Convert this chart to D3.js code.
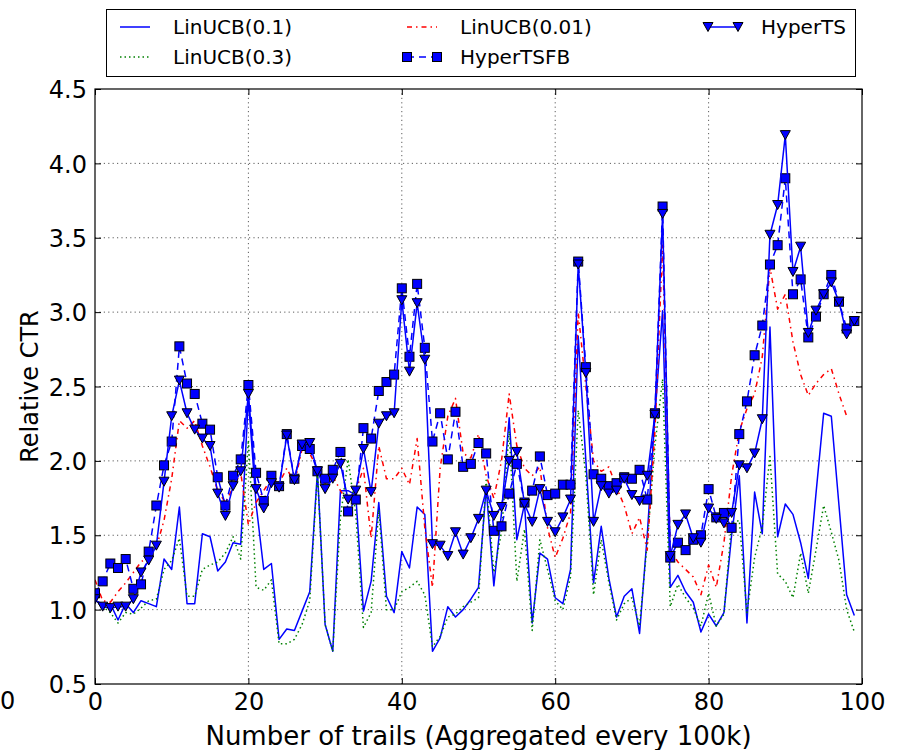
<!DOCTYPE html>
<html>
<head>
<meta charset="utf-8">
<script src="https://cdn.jsdelivr.net/npm/d3@7"></script>
<style>
  body { margin: 0; background: #fff; }
  svg { display: block; }
  text { font-family: "DejaVu Sans", "Bitstream Vera Sans", sans-serif; fill: #000; }
</style>
</head>
<body>
<svg id="chart" width="905" height="750"></svg>
<script>
// Trial index (aggregated every 100k)
const trials = d3.range(100);

const linUCB01 = [1.06,1.04,1.04,0.93,1.04,0.98,1.06,1.04,1.02,1.34,
  1.27,1.69,1.04,1.04,1.51,1.49,1.26,1.32,1.45,1.44,
  2.42,1.71,1.27,1.31,0.80,0.87,0.86,0.99,1.12,1.93,
  0.90,0.72,1.80,1.80,1.77,0.99,1.19,1.72,1.09,0.98,
  1.39,1.28,1.69,1.64,0.72,0.81,1.02,0.95,1.00,1.07,
  1.15,1.82,1.16,1.65,2.29,1.47,1.71,0.91,1.38,1.34,
  1.08,1.04,1.27,2.84,2.00,1.18,1.56,1.21,0.95,1.09,
  1.14,0.84,1.50,2.30,3.01,1.15,1.23,1.12,1.05,0.85,
  0.97,0.89,0.98,1.50,1.90,0.91,1.79,1.51,2.90,1.49,
  1.71,1.64,1.45,1.21,1.78,2.32,2.30,1.70,1.10,0.96];

const linUCB03 = [1.06,1.02,0.98,0.91,0.98,0.97,1.01,1.06,1.07,1.27,
  1.33,1.48,1.09,1.09,1.27,1.30,1.32,1.38,1.49,1.34,
  2.14,1.15,1.13,1.20,0.77,0.77,0.80,0.90,1.06,1.92,
  0.90,0.72,1.62,2.01,1.64,0.88,0.98,1.67,1.00,1.00,
  1.12,1.15,1.19,1.10,0.75,0.82,0.95,0.97,1.02,1.05,
  1.08,1.87,1.25,1.52,2.20,1.19,1.54,0.86,1.47,1.27,
  1.06,1.00,1.22,2.34,1.90,1.10,1.47,1.18,0.93,1.04,
  1.08,0.89,1.45,2.10,2.55,1.02,1.17,1.08,1.01,0.89,
  1.11,0.89,0.97,1.58,1.60,0.98,1.35,1.56,2.03,1.24,
  1.19,1.08,1.38,1.11,1.40,1.70,1.52,1.33,1.00,0.85];

const linUCB001 = [1.20,1.06,1.05,1.12,1.18,1.25,1.32,1.36,1.42,1.60,
  1.88,2.27,2.22,2.27,2.10,1.96,1.80,1.72,1.82,1.92,
  1.57,1.72,1.80,1.88,1.85,1.95,1.85,2.08,2.05,1.95,
  1.85,1.90,1.80,1.72,1.80,1.95,1.48,2.10,1.88,1.88,
  1.95,1.84,2.15,1.55,1.15,1.95,2.30,2.42,2.05,2.02,
  2.18,1.90,1.75,2.00,2.45,2.10,1.95,1.90,1.96,1.55,
  1.35,1.48,1.65,3.00,2.50,2.00,1.93,1.96,1.82,1.70,
  1.51,1.62,1.40,2.20,3.45,1.40,1.32,1.27,1.22,1.10,
  1.30,1.15,1.45,1.90,2.20,2.35,2.45,2.70,3.30,3.02,
  3.12,2.80,2.58,2.44,2.52,2.58,2.62,2.45,2.30,null];

const hyperTSFB = [1.11,1.19,1.31,1.28,1.34,1.14,1.17,1.39,1.70,1.97,
  2.13,2.77,2.52,2.45,2.25,2.21,1.89,1.70,1.90,2.01,
  2.51,1.92,1.73,1.90,1.83,2.18,1.88,2.10,2.08,1.93,
  1.88,1.94,2.06,1.66,1.74,2.22,2.15,2.47,2.53,2.58,
  3.16,2.70,3.19,2.76,2.13,2.32,2.01,2.33,1.96,1.98,
  2.12,2.05,1.53,1.56,1.78,1.98,1.72,1.80,2.03,1.77,
  1.78,1.84,1.84,3.34,2.63,1.91,1.88,1.83,1.85,1.89,
  1.88,1.94,1.74,2.32,3.71,1.35,1.45,1.40,1.47,1.50,
  1.81,1.62,1.65,1.55,2.18,2.40,2.71,2.91,3.32,3.45,
  3.90,3.12,3.22,2.83,2.97,3.12,3.25,3.07,2.89,2.94];

const hyperTS = [1.07,1.02,1.01,1.02,1.02,1.07,1.25,1.33,1.43,1.86,
  2.30,2.54,2.32,2.21,2.15,2.10,1.78,1.63,1.83,1.93,
  2.45,1.81,1.68,1.85,1.82,2.17,1.87,2.11,2.12,1.93,
  1.81,1.88,1.98,1.74,1.80,2.08,1.79,2.25,2.30,2.32,
  3.08,2.60,3.06,2.68,1.44,1.43,1.36,1.52,1.37,1.48,
  1.61,1.80,1.63,1.69,2.00,2.06,1.71,1.59,1.81,1.59,
  1.52,1.62,1.74,3.32,2.59,1.59,1.83,1.78,1.80,1.88,
  1.77,1.73,1.90,2.31,3.66,1.36,1.57,1.64,1.48,1.45,
  1.68,1.61,1.58,1.65,1.97,1.95,2.05,2.28,3.52,3.72,
  4.19,3.27,3.44,2.86,3.01,3.12,3.20,3.07,2.85,2.94];

const seriesNames = ["LinUCB(0.1)", "LinUCB(0.3)", "LinUCB(0.01)", "HyperTSFB", "HyperTS"];
const xTicks = [0, 20, 40, 60, 80, 100];
const yTicks = [0.5, 1.0, 1.5, 2.0, 2.5, 3.0, 3.5, 4.0, 4.5];
const xTitle = "Number of trails (Aggregated every 100k)";
const yTitle = "Relative CTR";

const svg = d3.select("#chart");
const plot = { left: 95, right: 862, top: 89, bottom: 684 };

const x = d3.scaleLinear().domain([0, 100]).range([plot.left, plot.right]);
const y = d3.scaleLinear().domain([0.5, 4.5]).range([plot.bottom, plot.top]);

const series = [
  { name: seriesNames[0], values: linUCB01, color: "#0000ff", dash: null, marker: null },
  { name: seriesNames[1], values: linUCB03, color: "#008000", dash: "1.5,3", marker: null },
  { name: seriesNames[2], values: linUCB001, color: "#ff0000", dash: "5,4,1.5,4", marker: null },
  { name: seriesNames[3], values: hyperTSFB, color: "#0000ff", dash: "7,5", marker: "square" },
  { name: seriesNames[4], values: hyperTS, color: "#0000ff", dash: null, marker: "triangle" }
];

// grid
const grid = svg.append("g").attr("stroke", "#000").attr("stroke-width", 0.8)
  .attr("stroke-dasharray", "1.2,3.2").attr("opacity", 0.8);
grid.selectAll("line.gx").data(xTicks.slice(1, -1)).join("line")
  .attr("x1", d => x(d)).attr("x2", d => x(d))
  .attr("y1", plot.top).attr("y2", plot.bottom);
grid.selectAll("line.gy").data(yTicks.slice(1, -1)).join("line")
  .attr("x1", plot.left).attr("x2", plot.right)
  .attr("y1", d => y(d)).attr("y2", d => y(d));

svg.append("clipPath").attr("id", "plotClip").append("rect")
  .attr("x", plot.left).attr("y", plot.top)
  .attr("width", plot.right - plot.left).attr("height", plot.bottom - plot.top);

const linesG = svg.append("g").attr("clip-path", "url(#plotClip)");

const line = d3.line()
  .defined(d => d[1] != null)
  .x(d => x(d[0])).y(d => y(d[1]));

const trianglePath = "M-5,-4.5L5,-4.5L0,4.5Z";

function drawMarkers(g, s, pts) {
  if (s.marker === "square") {
    g.selectAll("rect").data(pts).join("rect")
      .attr("x", d => x(d[0]) - 4.5).attr("y", d => y(d[1]) - 4.5)
      .attr("width", 9).attr("height", 9)
      .attr("fill", s.color).attr("stroke", "#000").attr("stroke-width", 1);
  } else if (s.marker === "triangle") {
    g.selectAll("path").data(pts).join("path")
      .attr("d", trianglePath)
      .attr("transform", d => `translate(${x(d[0])},${y(d[1])})`)
      .attr("fill", s.color).attr("stroke", "#000").attr("stroke-width", 1);
  }
}

series.forEach(s => {
  const pts = trials.map((t, i) => [t, s.values[i]]);
  linesG.append("path")
    .attr("d", line(pts))
    .attr("fill", "none")
    .attr("stroke", s.color)
    .attr("stroke-width", 1.5)
    .attr("stroke-linejoin", "round")
    .attr("stroke-dasharray", s.dash);
  if (s.marker) drawMarkers(linesG.append("g"), s, pts.filter(d => d[1] != null));
});

// axes: inward ticks on all four sides
const tickLen = 6;
const axB = svg.append("g").attr("transform", `translate(0,${plot.bottom})`)
  .call(d3.axisBottom(x).tickValues(xTicks).tickFormat(d3.format("d"))
    .tickSizeInner(-tickLen).tickSizeOuter(0).tickPadding(9));
const axL = svg.append("g").attr("transform", `translate(${plot.left},0)`)
  .call(d3.axisLeft(y).tickValues(yTicks).tickFormat(d3.format(".1f"))
    .tickSizeInner(-tickLen).tickSizeOuter(0).tickPadding(8));
const axT = svg.append("g").attr("transform", `translate(0,${plot.top})`)
  .call(d3.axisTop(x).tickValues(xTicks).tickFormat("")
    .tickSizeInner(-tickLen).tickSizeOuter(0));
const axR = svg.append("g").attr("transform", `translate(${plot.right},0)`)
  .call(d3.axisRight(y).tickValues(yTicks).tickFormat("")
    .tickSizeInner(-tickLen).tickSizeOuter(0));
[axB, axL, axT, axR].forEach(a => {
  a.select(".domain").remove();
  a.selectAll(".tick line").attr("stroke", "#000").attr("stroke-width", 1);
  a.selectAll(".tick text").attr("font-size", 24).attr("font-family", "DejaVu Sans");
});
axL.selectAll(".tick text").attr("dy", "0.36em");

svg.append("rect")
  .attr("x", plot.left).attr("y", plot.top)
  .attr("width", plot.right - plot.left).attr("height", plot.bottom - plot.top)
  .attr("fill", "none").attr("stroke", "#000").attr("stroke-width", 1.2);

// lone label at the lower-left edge
svg.append("text").attr("x", 0).attr("y", 709).attr("font-size", 24).text("0");

// axis titles
svg.append("text")
  .attr("x", (plot.left + plot.right) / 2).attr("y", 745)
  .attr("text-anchor", "middle").attr("font-size", 26)
  .text(xTitle);
svg.append("text")
  .attr("transform", `translate(38,${(plot.top + plot.bottom) / 2}) rotate(-90)`)
  .attr("text-anchor", "middle").attr("font-size", 24)
  .text(yTitle);

// legend
const legend = svg.append("g");
legend.append("rect").attr("x", 106.5).attr("y", 9.5).attr("width", 749).attr("height", 67)
  .attr("fill", "#fff").attr("stroke", "#000").attr("stroke-width", 1);

const legendSlots = [
  { col: 0, row: 0 }, { col: 0, row: 1 }, { col: 1, row: 0 }, { col: 1, row: 1 }, { col: 2, row: 0 }
];
const colX = [120, 407, 708];
const rowY = [27, 57];
series.forEach((s, i) => {
  const slot = legendSlots[i];
  const x0 = colX[slot.col], x1 = x0 + 30, yy = rowY[slot.row];
  const g = legend.append("g");
  g.append("line").attr("x1", x0).attr("x2", x1).attr("y1", yy).attr("y2", yy)
    .attr("stroke", s.color).attr("stroke-width", 1.5)
    .attr("stroke-dasharray", s.dash);
  if (s.marker === "square") {
    [x0, x1].forEach(px => g.append("rect").attr("x", px - 4.5).attr("y", yy - 4.5)
      .attr("width", 9).attr("height", 9).attr("fill", s.color)
      .attr("stroke", "#000").attr("stroke-width", 1));
  } else if (s.marker === "triangle") {
    [x0, x1].forEach(px => g.append("path").attr("d", trianglePath)
      .attr("transform", `translate(${px},${yy})`).attr("fill", s.color)
      .attr("stroke", "#000").attr("stroke-width", 1));
  }
  g.append("text").attr("x", x1 + 23).attr("y", yy).attr("dy", "0.36em")
    .attr("font-size", 20).text(s.name);
});
</script>
</body>
</html>
